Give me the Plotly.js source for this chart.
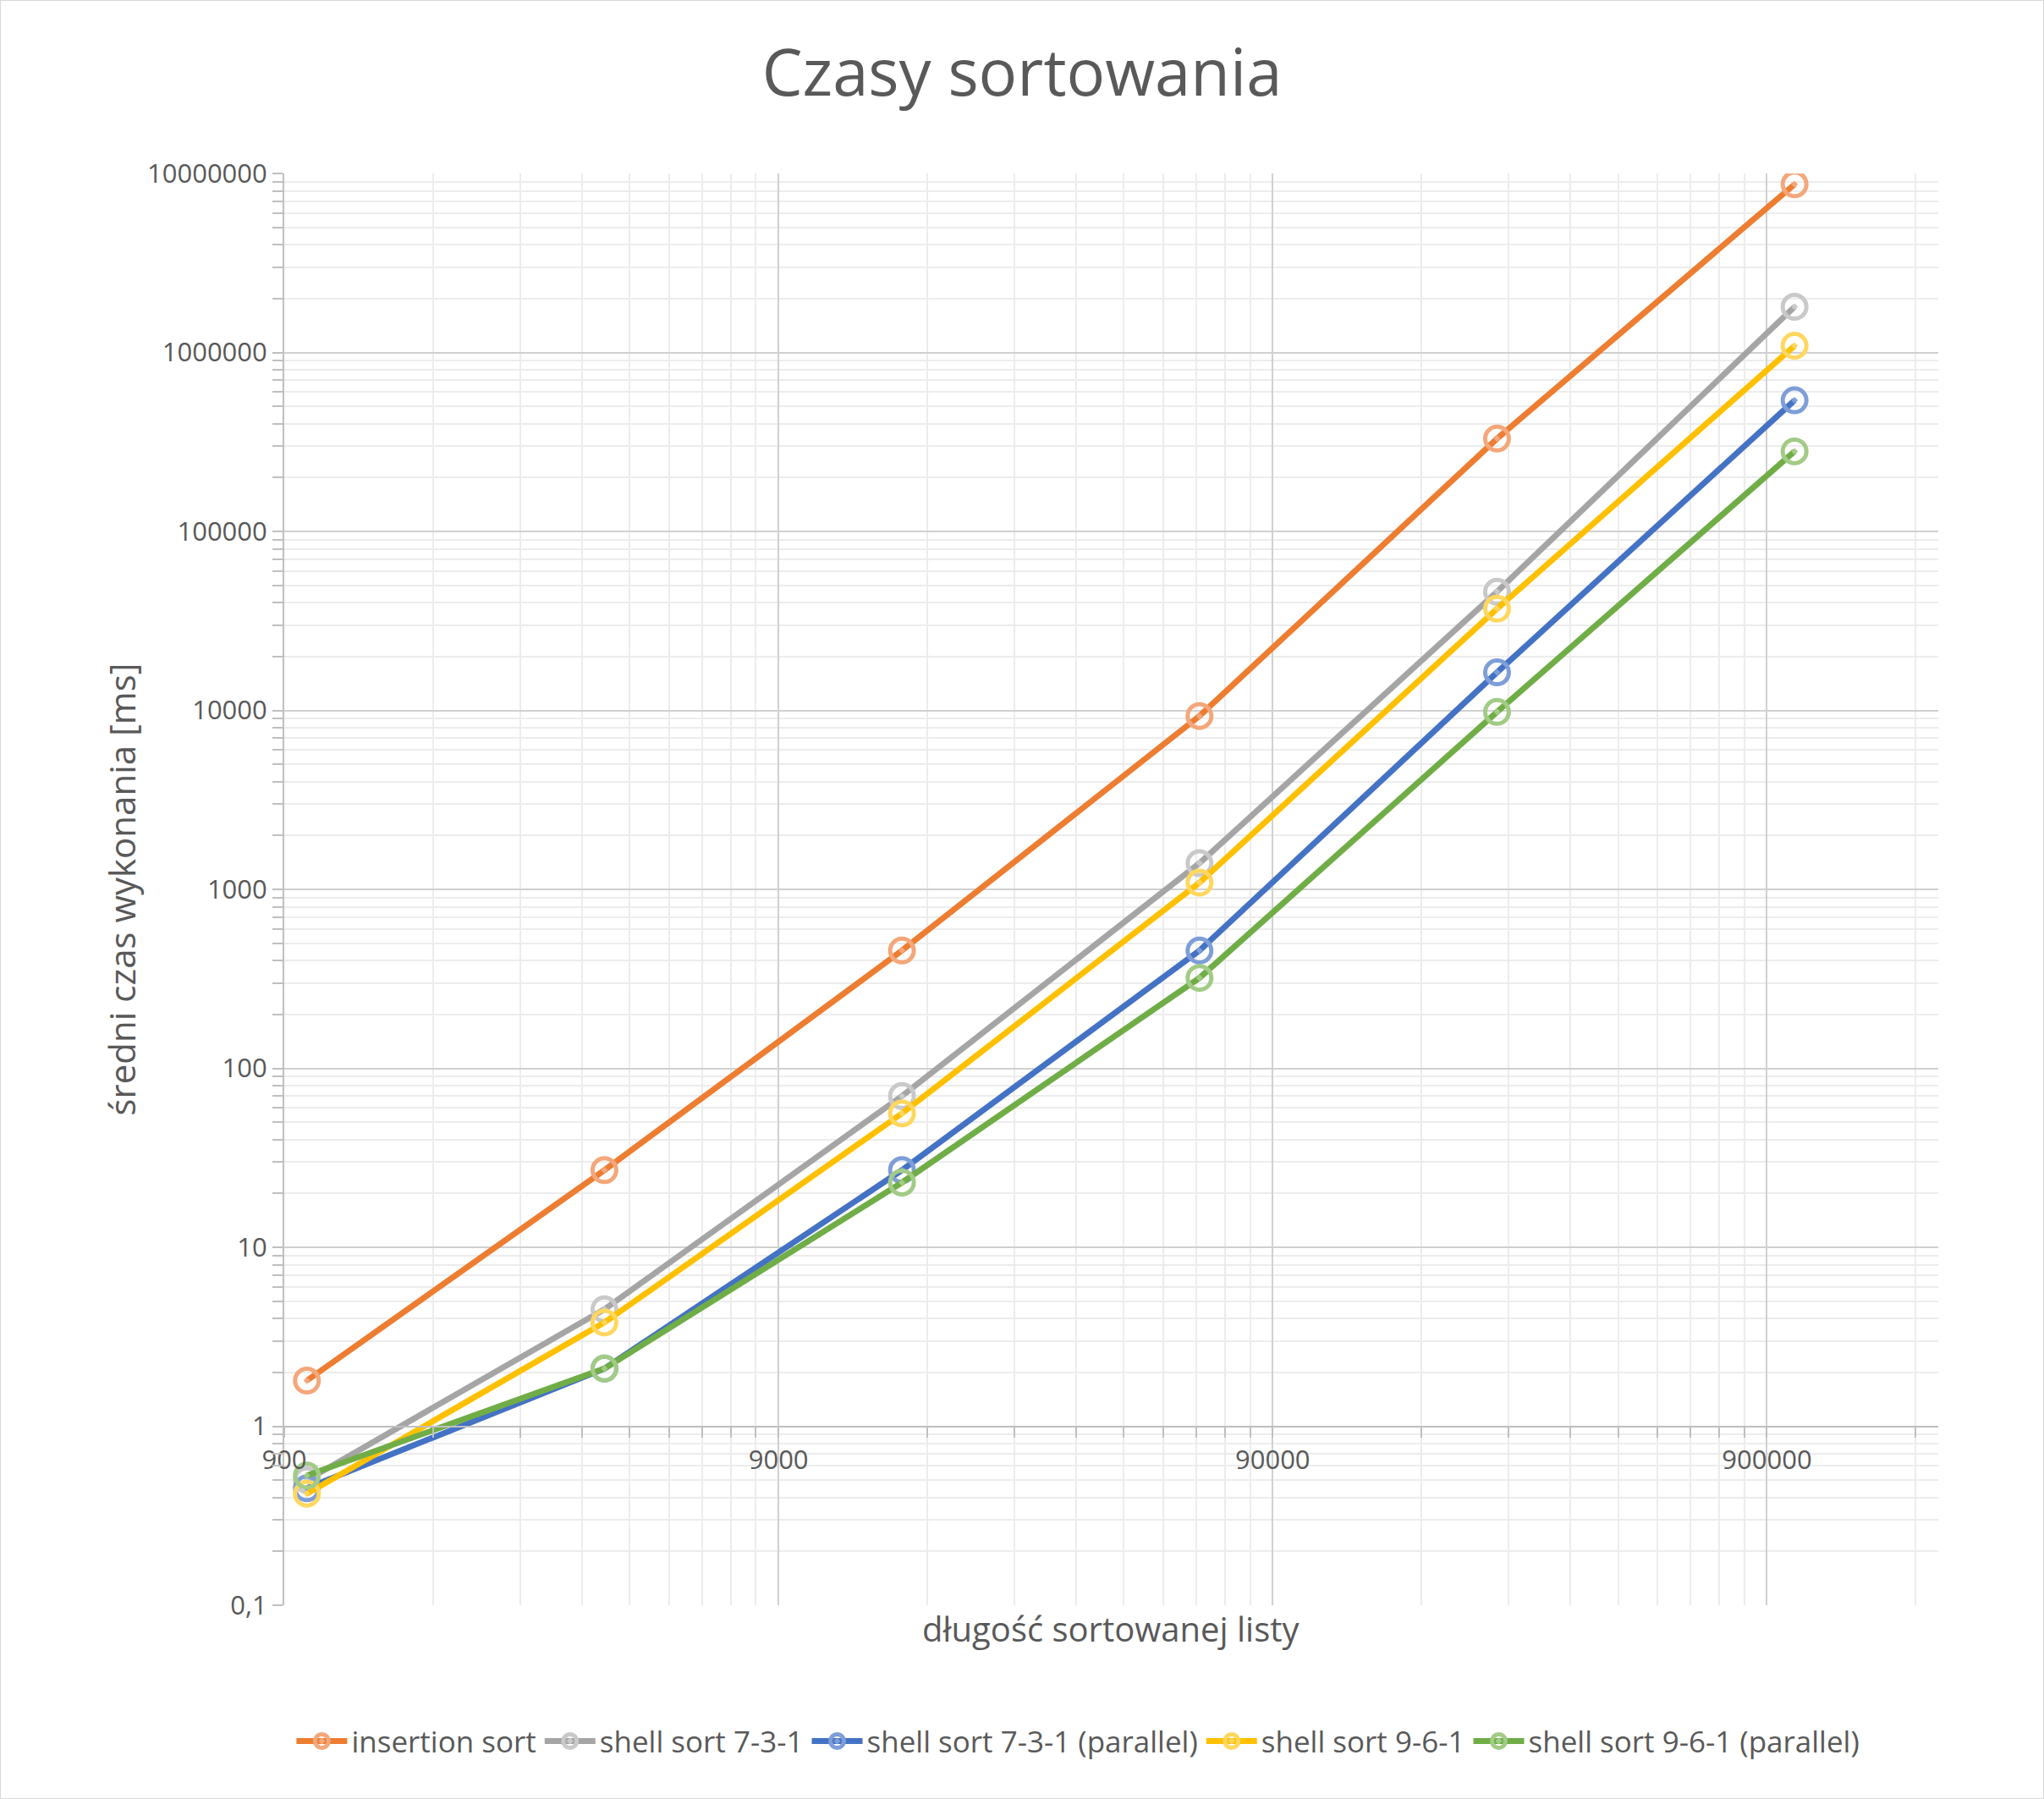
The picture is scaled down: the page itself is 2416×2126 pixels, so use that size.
<!DOCTYPE html>
<html>
<head>
<meta charset="utf-8">
<script src="https://cdn.plot.ly/plotly-3.0.1.min.js"></script>
<style>
  html, body { margin: 0; padding: 0; background: #fff; }
  #chart { width: 2414px; height: 2124px; border: 1px solid #d9d9d9; }
</style>
</head>
<body>
<div id="chart"></div>
<script>
'use strict';

/* ---------- data ---------- */
var listLengths   = [1000, 4000, 16000, 64000, 256000, 1024000];
var insertionSort = [1.8, 27, 455, 9300, 330000, 8700000];
var shell731      = [0.5, 4.5, 70, 1400, 46000, 1800000];
var shell731Par   = [0.45, 2.1, 27, 455, 16300, 540000];
var shell961      = [0.42, 3.8, 56, 1090, 37000, 1090000];
var shell961Par   = [0.53, 2.1, 23, 320, 9800, 280000];

var seriesNames  = ['insertion sort', 'shell sort 7-3-1', 'shell sort 7-3-1 (parallel)',
                    'shell sort 9-6-1', 'shell sort 9-6-1 (parallel)'];
var seriesValues = [insertionSort, shell731, shell731Par, shell961, shell961Par];
var lineColors   = ['#ED7D31', '#A5A5A5', '#4472C4', '#FFC000', '#70AD47'];
var markerColors = ['#F4A77A', '#C9C9C9', '#7E9ED8', '#FFD75E', '#A2CB86'];

var xTickVals  = [900, 9000, 90000, 900000];
var xTickText  = ['900', '9000', '90000', '900000'];
var yTickVals  = [0.1, 1, 10, 100, 1000, 10000, 100000, 1000000, 10000000];
var yTickText  = ['0,1', '1', '10', '100', '1000', '10000', '100000', '1000000', '10000000'];

/* minor grid: 2..9 times each major value */
function minorTicks(bases) {
  var out = [];
  bases.forEach(function (b) {
    for (var k = 2; k <= 9; k++) out.push(b * k);
  });
  return out;
}

var FONT = 'Open Sans, Liberation Sans, sans-serif';
var TXT  = '#595959';

var traces = seriesValues.map(function (vals, i) {
  return {
    x: listLengths, y: vals, name: seriesNames[i],
    type: 'scatter', mode: 'lines+markers',
    line: { color: lineColors[i], width: 7 },
    marker: { symbol: 'circle-open-dot', size: 28, color: markerColors[i],
              line: { width: 5, color: markerColors[i] } }
  };
});

var xMin = Math.log10(900), xMax = Math.log10(2000000);

Plotly.newPlot('chart', traces, {
  width: 2414, height: 2124,
  font: { family: FONT, color: TXT },
  paper_bgcolor: '#fff', plot_bgcolor: '#fff',
  margin: { l: 335, r: 124, t: 204, b: 228 },
  title: { text: 'Czasy sortowania', font: { size: 76, color: TXT },
           x: 0.5, xanchor: 'center', y: 0.96, yanchor: 'middle' },
  xaxis: {
    type: 'log', range: [xMin, xMax],
    anchor: 'free', position: 1 / 8,
    tickvals: xTickVals, ticktext: xTickText,
    tickfont: { size: 31, color: TXT },
    showgrid: true, gridcolor: '#d0d0d0', gridwidth: 2,
    showline: true, linecolor: '#bfbfbf', linewidth: 2,
    ticks: 'outside', ticklen: 12, tickcolor: '#bfbfbf', tickwidth: 2,
    minor: { tickvals: minorTicks([900, 9000, 90000, 900000]), showgrid: true,
             gridcolor: '#ececec', gridwidth: 2,
             ticks: 'outside', ticklen: 12, tickcolor: '#bfbfbf' },
    zeroline: false
  },
  yaxis: {
    type: 'log', range: [-1, 7],
    tickvals: yTickVals, ticktext: yTickText,
    tickfont: { size: 31, color: TXT },
    showgrid: true, gridcolor: '#d0d0d0', gridwidth: 2,
    showline: true, linecolor: '#bfbfbf', linewidth: 2,
    ticks: 'outside', ticklen: 12, tickcolor: '#bfbfbf', tickwidth: 2,
    minor: { tickvals: minorTicks([0.1, 1, 10, 100, 1000, 10000, 100000, 1000000]),
             showgrid: true, gridcolor: '#ececec', gridwidth: 2,
             ticks: 'outside', ticklen: 12, tickcolor: '#bfbfbf' },
    title: { text: 'średni czas wykonania [ms]', font: { size: 42, color: TXT }, standoff: 0 }
  },
  annotations: [{
    text: 'długość sortowanej listy', xref: 'paper', yref: 'paper',
    x: 0.5, y: -0.016, xanchor: 'center', yanchor: 'middle',
    showarrow: false, font: { size: 40, color: TXT }
  }],
  showlegend: true,
  legend: { orientation: 'h', x: 0.48, xanchor: 'center', y: -0.095, yanchor: 'middle',
            font: { size: 35, color: TXT }, itemwidth: 60 }
}, { displayModeBar: false, staticPlot: true });
</script>
</body>
</html>
